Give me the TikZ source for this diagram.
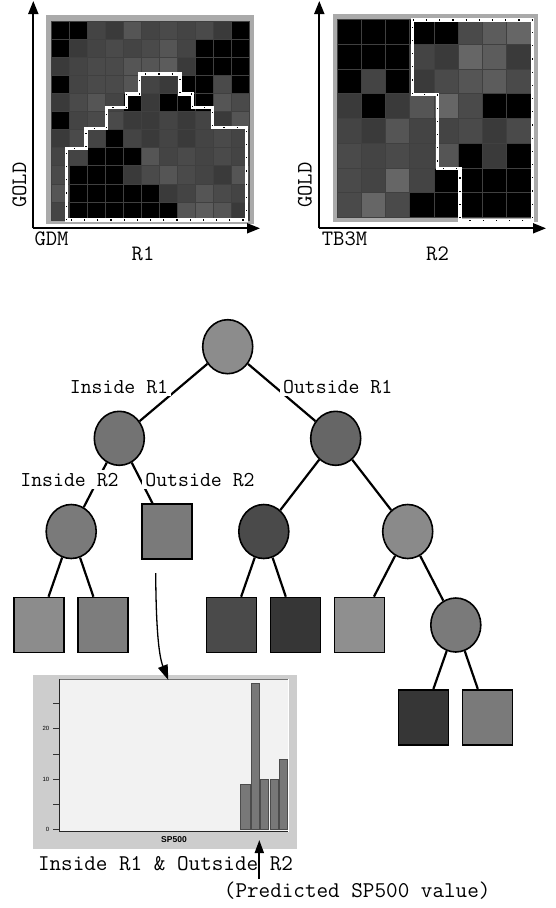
\documentclass[tikz,border=0pt]{standalone}
\usepackage{fontspec}
\newfontfamily\sansf{Liberation Sans}
\usetikzlibrary{shapes.geometric,arrows.meta}
\definecolor{hB}{HTML}{000000}
\definecolor{ha}{HTML}{3A3A3A}
\definecolor{hb}{HTML}{444444}
\definecolor{hc}{HTML}{4A4A4A}
\definecolor{hd}{HTML}{555555}
\definecolor{he}{HTML}{5C5C5C}
\definecolor{hf}{HTML}{666666}
\definecolor{frame}{HTML}{AAAAAA}
\definecolor{histout}{HTML}{CDCDCD}
\definecolor{histin}{HTML}{F2F2F2}
\definecolor{barc}{HTML}{787878}
\begin{document}
\begin{tikzpicture}[x=1pt,y=-1pt,
  edge/.style={line width=2.2pt},
  cnode/.style={ellipse, draw=black, line width=1.6pt, minimum width=50pt, minimum height=54pt, inner sep=0pt},
  snode/.style={rectangle, draw=black, line width=1.6pt, minimum width=50pt, minimum height=55pt, inner sep=0pt},
  elabel/.style={font=\ttfamily\fontsize{21.2}{23}\selectfont, fill=white, inner sep=3pt, anchor=base},
  axlabel/.style={font=\ttfamily\fontsize{22}{24}\selectfont, anchor=base, inner sep=0pt},
  botlabel/.style={font=\ttfamily\fontsize{22.5}{24}\selectfont, anchor=base, inner sep=0pt},
  axisarrow/.style={line width=1.8pt, -{Triangle[length=13pt,width=10pt]}},
  cell/.style={draw=black!75, line width=0.4pt},
  boundw/.style={draw=white, line width=3.5pt, line join=miter},
  boundd/.style={draw=black, line width=1.2pt, dash pattern=on 1.2pt off 12pt},
  tick/.style={line width=0.6pt, black!80},
  ticklab/.style={font=\sansf\fontsize{6}{7}\selectfont, anchor=east, inner sep=0pt},
  barst/.style={fill=barc, draw=black!70, line width=0.8pt}
]
\useasboundingbox (0,0) rectangle (556,908);

% ---------- top-left heatmap ----------
\fill[frame] (46,15) rectangle (254,224);
\foreach \row [count=\r] in {
 {B,B,b,a,d,b,c,b,c,a,B},
 {B,a,b,c,b,c,d,b,B,B,B},
 {a,b,c,c,d,d,e,a,B,B,B},
 {B,b,c,c,d,b,a,B,B,c,B},
 {a,c,d,b,B,a,B,B,B,d,c},
 {B,b,c,c,a,a,b,a,b,a,d},
 {a,c,b,B,b,a,b,a,b,c,b},
 {b,b,B,B,B,d,b,c,b,c,b},
 {c,B,B,B,a,c,d,c,b,a,d},
 {d,B,B,B,B,B,a,b,d,c,b},
 {b,B,B,B,B,B,B,d,e,d,a}} {
  \foreach \c [count=\k] in \row {
    \path[cell, fill=h\c] ({50.7+(\k-1)*18.05},{20.7+(\r-1)*18.12}) rectangle ++(18.05,18.12);
  }
}
\path[boundw] (66.7,220) -- (66.7,148.3) -- (86,148.3) -- (86,128.3) -- (106.7,128.3) -- (106.7,107.3) -- (126.7,107.3) -- (126.7,94) -- (139.3,94) -- (139.3,74) -- (180,74) -- (180,94) -- (192.7,94) -- (192.7,107.3) -- (212.7,107.3) -- (212.7,127.7) -- (246.7,127.7) -- (246.7,220) -- cycle;
\path[boundd] (66.7,220) -- (66.7,148.3) -- (86,148.3) -- (86,128.3) -- (106.7,128.3) -- (106.7,107.3) -- (126.7,107.3) -- (126.7,94) -- (139.3,94) -- (139.3,74) -- (180,74) -- (180,94) -- (192.7,94) -- (192.7,107.3) -- (212.7,107.3) -- (212.7,127.7) -- (246.7,127.7) -- (246.7,220) -- cycle;
\coordinate (o1) at (33.3,228.3);
\coordinate (y1) at (33.3,1);
\coordinate (x1) at (260,228.3);
\draw[axisarrow] (o1) -- (y1);
\draw[axisarrow] (o1) -- (x1);
\node[axlabel, rotate=90, anchor=base west] (gold1) at (26,208) {GOLD};
\node[axlabel] (gdm) at (51.5,245) {GDM};
\node[axlabel] (r1) at (143,260) {R1};

% ---------- top-right heatmap ----------
\fill[frame] (332.7,14) rectangle (538.3,221.7);
\foreach \row [count=\r] in {
 {B,B,B,B,B,c,e,f},
 {B,B,B,b,a,f,e,a},
 {B,b,B,a,c,d,e,c},
 {a,B,a,d,f,c,B,B},
 {b,a,d,b,b,c,a,c},
 {c,b,c,b,d,B,a,B},
 {c,b,f,b,B,B,B,B},
 {c,f,c,B,B,B,B,B}} {
  \foreach \c [count=\k] in \row {
    \path[cell, fill=h\c] ({336.7+(\k-1)*24.25},{19.3+(\r-1)*24.75}) rectangle ++(24.25,24.75);
  }
}
\path[boundw] (412.7,20) -- (532.7,20) -- (532.7,220.7) -- (460,220.7) -- (460,168.3) -- (437.3,168.3) -- (437.3,94.3) -- (412.7,94.3) -- cycle;
\path[boundd] (412.7,20) -- (532.7,20) -- (532.7,220.7) -- (460,220.7) -- (460,168.3) -- (437.3,168.3) -- (437.3,94.3) -- (412.7,94.3) -- cycle;
\coordinate (o2) at (319.3,228.3);
\coordinate (y2) at (319.3,1);
\coordinate (x2) at (546,228.3);
\draw[axisarrow] (o2) -- (y2);
\draw[axisarrow] (o2) -- (x2);
\node[axlabel, rotate=90, anchor=base west] (gold2) at (311.7,208) {GOLD};
\node[axlabel] (tb3m) at (344.5,245) {TB3M};
\node[axlabel] (r2) at (437.5,260) {R2};

% ---------- tree ----------
\node[cnode, fill=black!45] (root) at (227.7,346.7) {};
\node[cnode, fill=black!55] (L) at (119.3,438.3) {};
\node[cnode, fill=black!60] (R) at (335.7,438.3) {};
\node[cnode, fill=black!52] (LL) at (71.2,531.5) {};
\node[snode, fill=black!52] (LR) at (167,531.7) {};
\node[cnode, fill=black!71] (RL) at (263.8,531.5) {};
\node[cnode, fill=black!46] (RR) at (407.7,531.5) {};
\node[snode, fill=black!45] (LLa) at (38.7,625) {};
\node[snode, fill=black!51] (LLb) at (103,625) {};
\node[snode, fill=black!71] (RLa) at (231.3,625) {};
\node[snode, fill=black!79] (RLb) at (295.3,625) {};
\node[snode, fill=black!44] (RRa) at (359.3,625) {};
\node[cnode, fill=black!52] (RRb) at (455.8,625) {};
\node[snode, fill=black!79] (RRba) at (423.5,717.2) {};
\node[snode, fill=black!52] (RRbb) at (487.5,717.2) {};

\draw[edge] (root) -- (L);
\draw[edge] (root) -- (R);
\draw[edge] (L) -- (LL);
\draw[edge] (L) -- (LR);
\draw[edge] (R) -- (RL);
\draw[edge] (R) -- (RR);
\draw[edge] (LL) -- (LLa);
\draw[edge] (LL) -- (LLb);
\draw[edge] (RL) -- (RLa);
\draw[edge] (RL) -- (RLb);
\draw[edge] (RR) -- (RRa);
\draw[edge] (RR) -- (RRb);
\draw[edge] (RRb) -- (RRba);
\draw[edge] (RRb) -- (RRbb);

\node[elabel] (lin1) at (119,393) {Inside R1};
\node[elabel] (lout1) at (337.7,393) {Outside R1};
\node[elabel] (lin2) at (69.5,486) {Inside R2};
\node[elabel] (lout2) at (200,486) {Outside R2};

% ---------- histogram ----------
\node[fill=histout, minimum width=264pt, minimum height=173.3pt, inner sep=0pt, anchor=north west] (hist) at (32.7,675) {};
\fill[histin] (59.3,679.3) rectangle (288.3,831.7);
\draw[black!55, line width=1pt] (59.3,679.3) -- (288.3,679.3);
\draw[white, line width=0.8pt] (288.3,679.3) -- (288.3,831.7);
\draw[black!85, line width=1pt] (59.3,679.3) -- (59.3,831.7) -- (288.3,831.7);
\foreach \v in {0,5,10,15,20,25} {
  \draw[tick] (53.3,{829.3-\v*5.03}) -- (59.3,{829.3-\v*5.03});
}
\node[ticklab] (t0) at (49.5,829.3) {0};
\node[ticklab] (t10) at (49.5,779) {10};
\node[ticklab] (t20) at (49.5,728.7) {20};
\path[barst] (240.7,829.3) rectangle (250,784);
\path[barst] (251.3,829.3) rectangle (259.3,683.4);
\path[barst] (260.7,829.3) rectangle (268.7,779);
\path[barst] (270,829.3) rectangle (278.3,779);
\path[barst] (279.3,829.3) rectangle (287.3,758.9);
\node[font=\sansf\bfseries\fontsize{8.5}{9}\selectfont, inner sep=0pt] (sp) at (174,840) {SP500};

\coordinate (cs) at (155.7,573);
\coordinate (ce) at (168.3,680);
\draw[line width=1.3pt, -{Triangle[length=15pt,width=10pt]}] (cs) .. controls (156,625) and (158.5,655) .. (ce);

\node[botlabel] (cap) at (165.5,870) {Inside R1 \& Outside R2};
\node[botlabel] (pred) at (357.2,897) {(Predicted SP500 value)};
\coordinate (ps) at (259.3,879);
\coordinate (pe) at (259.3,840);
\draw[line width=1.8pt, -{Triangle[length=13pt,width=9pt]}] (ps) -- (pe);
\end{tikzpicture}
\end{document}
